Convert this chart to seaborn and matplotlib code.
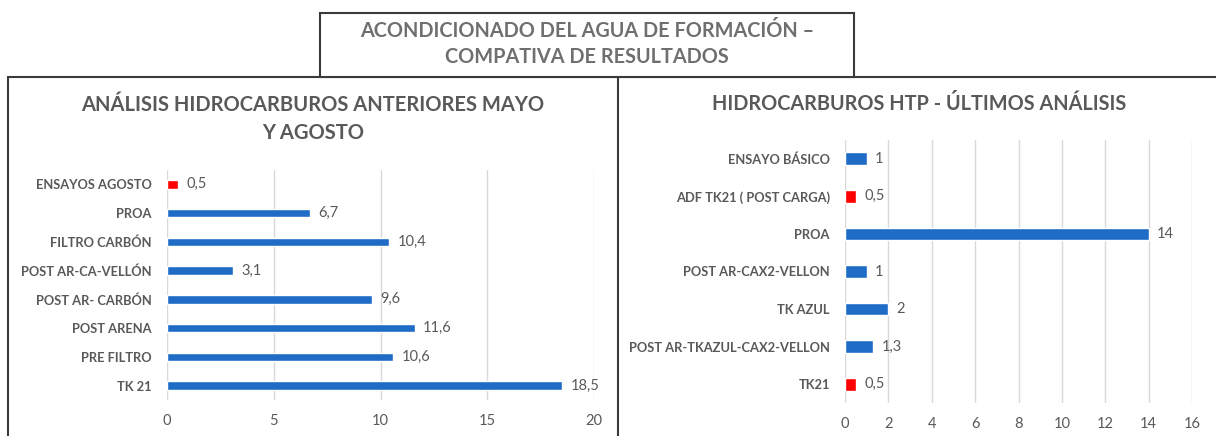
import matplotlib
matplotlib.use("Agg")
import matplotlib.pyplot as plt
import seaborn as sns
from matplotlib.lines import Line2D
from matplotlib.patches import Rectangle

# datos
cat_izq = ["ENSAYOS AGOSTO", "PROA", "FILTRO CARBÓN", "POST AR-CA-VELLÓN",
           "POST AR- CARBÓN", "POST ARENA", "PRE FILTRO", "TK 21"]
val_izq = [0.5, 6.7, 10.4, 3.1, 9.6, 11.6, 10.6, 18.5]
rojo_izq = ["ENSAYOS AGOSTO"]

cat_der = ["ENSAYO BÁSICO", "ADF TK21 ( POST CARGA)", "PROA", "POST AR-CAX2-VELLON",
           "TK AZUL", "POST AR-TKAZUL-CAX2-VELLON", "TK21"]
val_der = [1, 0.5, 14, 1, 2, 1.3, 0.5]
rojo_der = ["ADF TK21 ( POST CARGA)", "TK21"]

titulo = "ACONDICIONADO DEL AGUA DE FORMACIÓN –\nCOMPATIVA DE RESULTADOS"
titulo_izq = "ANÁLISIS HIDROCARBUROS ANTERIORES MAYO\nY AGOSTO"
titulo_der = "HIDROCARBUROS HTP - ÚLTIMOS ANÁLISIS"

AZUL = "#1f6cc6"
ROJO = "#ff0000"
GRIS = "#595959"
W, H = 1216, 436

sns.set_theme(style="white")
plt.rcParams["font.family"] = ["Lato", "DejaVu Sans"]

fig = plt.figure(figsize=(W / 100, H / 100), dpi=100)


def px_axes(x0, x1, y0, y1):
    return fig.add_axes([x0 / W, 1 - y1 / H, (x1 - x0) / W, (y1 - y0) / H])


def dibujar(ax, cats, vals, rojos, xmax, paso, ancho):
    colores = {c: (ROJO if c in rojos else AZUL) for c in cats}
    sns.barplot(x=vals, y=cats, hue=cats, palette=colores, legend=False,
                orient="h", width=ancho, ax=ax, saturation=1)
    ax.set_xlim(0, xmax)
    ax.set_ylim(len(cats) - 0.5, -0.5)
    ax.set_xticks(range(0, xmax + 1, paso))
    ax.grid(axis="x", color="#d9d9d9", linewidth=1)
    ax.set_axisbelow(True)
    for s in ax.spines.values():
        s.set_visible(False)
    ax.tick_params(axis="both", length=0)
    ax.tick_params(axis="x", pad=10, labelsize=10.5, labelcolor=GRIS)
    ax.tick_params(axis="y", pad=11, labelsize=9.3, labelcolor=GRIS)
    for t in ax.get_yticklabels():
        t.set_fontweight("bold")
    ax.set_xlabel("")
    ax.set_ylabel("")
    for cont in ax.containers:
        etiquetas = [f"{v.get_width():g}".replace(".", ",") for v in cont]
        ax.bar_label(cont, labels=etiquetas, padding=6, fontsize=10.5, color=GRIS)


ax1 = px_axes(167, 594, 170, 400)
dibujar(ax1, cat_izq, val_izq, rojo_izq, 20, 5, 0.3)

ax2 = px_axes(845, 1192, 140, 403)
dibujar(ax2, cat_der, val_der, rojo_der, 16, 2, 0.34)

# marcos de los paneles
linea = dict(color="#3a3a3a", linewidth=1.5, transform=fig.transFigure)
fig.add_artist(Line2D([8 / W, 1], [1 - 77 / H] * 2, **linea))
fig.add_artist(Line2D([8 / W] * 2, [0, 1 - 77 / H], **linea))
fig.add_artist(Line2D([618 / W] * 2, [0, 1 - 77 / H], **linea))

caja = Rectangle((320 / W, 1 - 77 / H), (854 - 320) / W, (77 - 13) / H,
                 transform=fig.transFigure, facecolor="white",
                 edgecolor="#3a3a3a", linewidth=1.5, zorder=5)
fig.add_artist(caja)
fig.text(587 / W, 1 - 44 / H, titulo, ha="center", va="center", fontsize=14.3,
         fontweight="bold", color="#6f6f6f", linespacing=1.4, zorder=6)

fig.text(313 / W, 1 - 119 / H, titulo_izq, ha="center", va="center", fontsize=14.5,
         fontweight="bold", color=GRIS, linespacing=1.45)
fig.text(919 / W, 1 - 104 / H, titulo_der, ha="center", va="center", fontsize=14.3,
         fontweight="bold", color=GRIS)

fig.savefig("out.png", dpi=100, facecolor="white")
